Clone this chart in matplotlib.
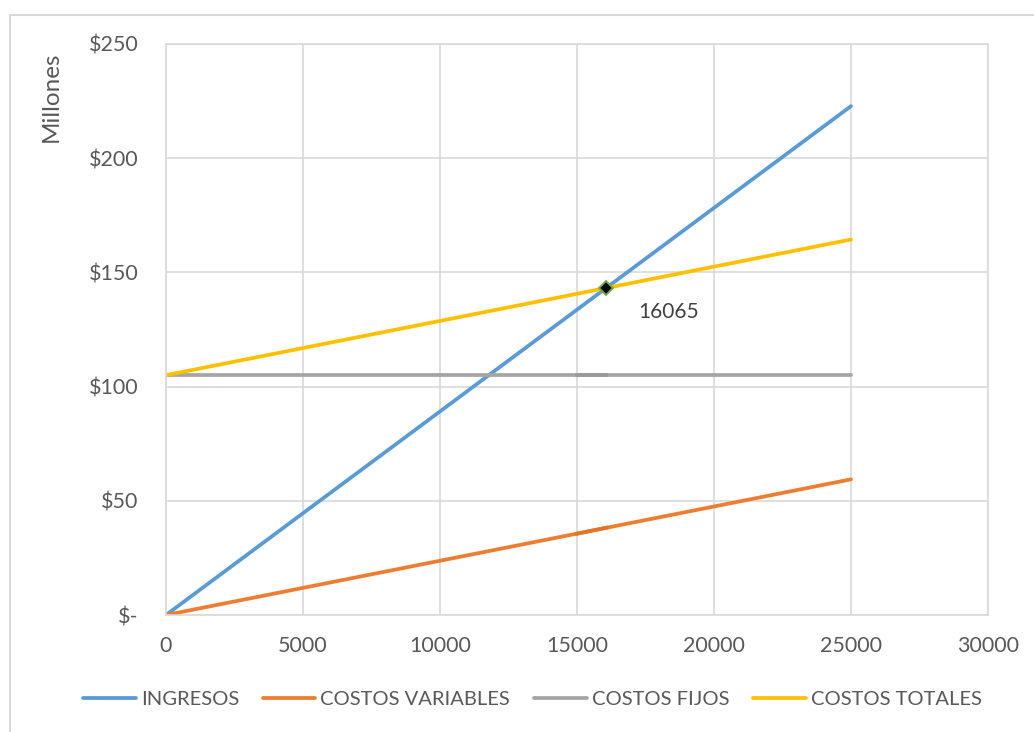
import matplotlib.pyplot as plt
from matplotlib.patches import Rectangle
from matplotlib.ticker import FuncFormatter

plt.rcParams['font.family'] = ['Lato', 'DejaVu Sans']

# datos (millones)
unidades = [0, 25000]
ingresos = [0, 222.8]
costos_variables = [0, 59.4]
costos_fijos = [105, 105]
costos_totales = [105, 164.4]

# tramo resaltado cerca del punto de equilibrio
tramo_x = [15000, 16065]
tramo_fijos = [105, 105]
tramo_variables = [35.6, 38.2]

punto_eq_x = 16065
punto_eq_y = 143.2
etiqueta_eq = "16065"

gris_texto = '#595959'
gris_grid = '#d9d9d9'
ancho = 2.7

fig = plt.figure(figsize=(10.34, 7.32), dpi=100)
ax = fig.add_axes([0.1605, 0.1598, 0.795, 0.7801])

ax.plot(unidades, ingresos, color='#5B9BD5', linewidth=ancho, label='INGRESOS', solid_capstyle='round')
ax.plot(unidades, costos_variables, color='#ED7D31', linewidth=ancho, label='COSTOS VARIABLES', solid_capstyle='round')
ax.plot(unidades, costos_fijos, color='#A5A5A5', linewidth=ancho, label='COSTOS FIJOS', solid_capstyle='round')
ax.plot(unidades, costos_totales, color='#FFC000', linewidth=ancho, label='COSTOS TOTALES', solid_capstyle='round')

ax.plot(tramo_x, tramo_fijos, color='#9a9a9a', linewidth=ancho)
ax.plot(tramo_x, tramo_variables, color='#e37528', linewidth=ancho)

ax.plot([punto_eq_x], [punto_eq_y], marker='D', markersize=7.5, color='black',
        markeredgecolor='#70AD47', markeredgewidth=1.4, linestyle='none')
ax.text(17230, 132.5, etiqueta_eq, fontsize=15, color='#404040', va='center', ha='left')

ax.set_xlim(0, 30000)
ax.set_ylim(0, 250)
ax.set_xticks(range(0, 30001, 5000))
ax.set_yticks(range(0, 251, 50))
ax.yaxis.set_major_formatter(FuncFormatter(lambda v, p: '$-' if v == 0 else f'${v:.0f}'))
ax.grid(True, color=gris_grid, linewidth=1.2)
ax.set_axisbelow(True)
for s in ax.spines.values():
    s.set_color(gris_grid)
    s.set_linewidth(1.2)
ax.tick_params(axis='both', length=0, labelsize=15.5, colors=gris_texto)
ax.tick_params(axis='y', pad=20)
ax.tick_params(axis='x', pad=15)

ax.set_ylabel('Millones', fontsize=17.5, color=gris_texto)
ax.yaxis.set_label_coords(-0.1265, 0.907)

fig.legend(loc='center', bbox_to_anchor=(0.515, 0.045), ncol=4, frameon=False,
           fontsize=14.5, labelcolor=gris_texto, handlelength=2.6, columnspacing=1.2,
           handletextpad=0.25)

fig.patches.append(Rectangle((0.0097, -0.01), 1.0, 0.9895, transform=fig.transFigure,
                             fill=False, edgecolor=gris_grid, linewidth=1.5))

fig.savefig('out.png', dpi=100)
